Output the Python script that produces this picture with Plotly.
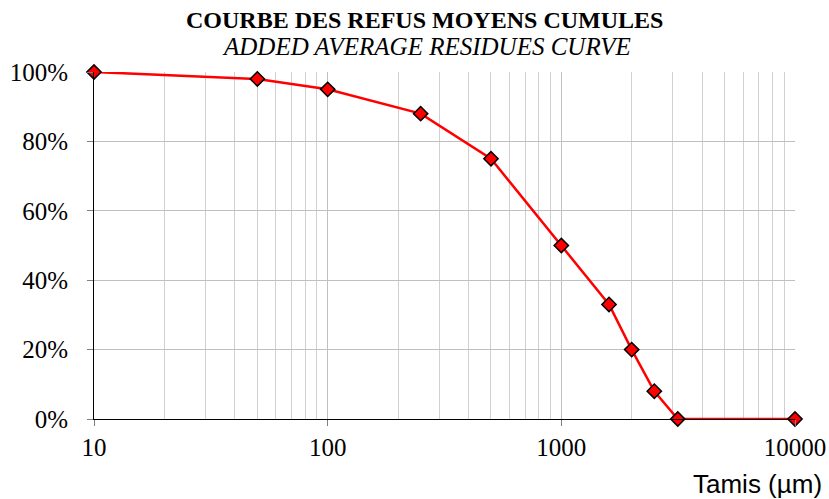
import plotly.graph_objects as go

sieve_um = [10, 50, 100, 250, 500, 1000, 1600, 2000, 2500, 3150, 10000]
residue_pct = [100, 98, 95, 88, 75, 50, 33, 20, 8, 0, 0]
x_tick_vals = [10, 100, 1000, 10000]
x_tick_text = ["10", "100", "1000", "10000"]
title_main = "COURBE DES REFUS MOYENS CUMULES"
title_sub = "ADDED AVERAGE RESIDUES CURVE"
x_title = "Tamis (µm)"

fig = go.Figure()
fig.add_trace(go.Scatter(
    x=sieve_um,
    y=[v / 100 for v in residue_pct],
    mode="lines+markers",
    line=dict(color="#ff0000", width=2.5),
    marker=dict(symbol="diamond", size=11, color="#ff0000",
                line=dict(color="#000000", width=1.5)),
    cliponaxis=False,
    showlegend=False,
))

serif = "Liberation Serif, Times New Roman, serif"
fig.update_layout(
    width=829, height=499,
    margin=dict(l=94, r=34, t=72, b=80, autoexpand=False),
    paper_bgcolor="white", plot_bgcolor="white",
    xaxis=dict(
        type="log", range=[1, 4], automargin=False,
        tickvals=x_tick_vals, ticktext=x_tick_text,
        showgrid=True, gridcolor="#c0c0c0", gridwidth=1,
        minor=dict(dtick="D1", showgrid=True, gridcolor="#d0d0d0", gridwidth=1, ticks=""),
        showline=True, linecolor="#000000", linewidth=1,
        ticks="outside", ticklen=6, tickcolor="#808080",
        tickfont=dict(family=serif, size=25, color="#000000"),
        zeroline=False,
    ),
    yaxis=dict(
        range=[0, 1], dtick=0.2, tickformat=".0%", automargin=False,
        showgrid=True, gridcolor="#c0c0c0", gridwidth=1,
        showline=True, linecolor="#000000", linewidth=1,
        ticks="outside", ticklen=6, tickcolor="#808080",
        ticklabelstandoff=14,
        tickfont=dict(family=serif, size=25, color="#000000"),
        zeroline=False,
    ),
    annotations=[
        dict(text="<b>" + title_main + "</b>", xref="paper", yref="paper",
             x=(424 - 94) / 701, y=(419 - 20) / 347, xanchor="center", yanchor="middle",
             showarrow=False, font=dict(family=serif, size=24, color="#000000")),
        dict(text="<i>" + title_sub + "</i>", xref="paper", yref="paper",
             x=(426 - 94) / 701, y=(419 - 46) / 347, xanchor="center", yanchor="middle",
             showarrow=False, font=dict(family=serif, size=25, color="#000000")),
        dict(text=x_title, xref="paper", yref="paper",
             x=(824 - 94) / 701, y=(419 - 484) / 347, xanchor="right", yanchor="middle",
             showarrow=False, font=dict(family="Liberation Sans, Arial, sans-serif", size=26, color="#000000")),
    ],
)

fig.write_html("out.html", config={"displayModeBar": False},
               post_script="document.body.style.margin='0';document.body.style.overflow='hidden';")
